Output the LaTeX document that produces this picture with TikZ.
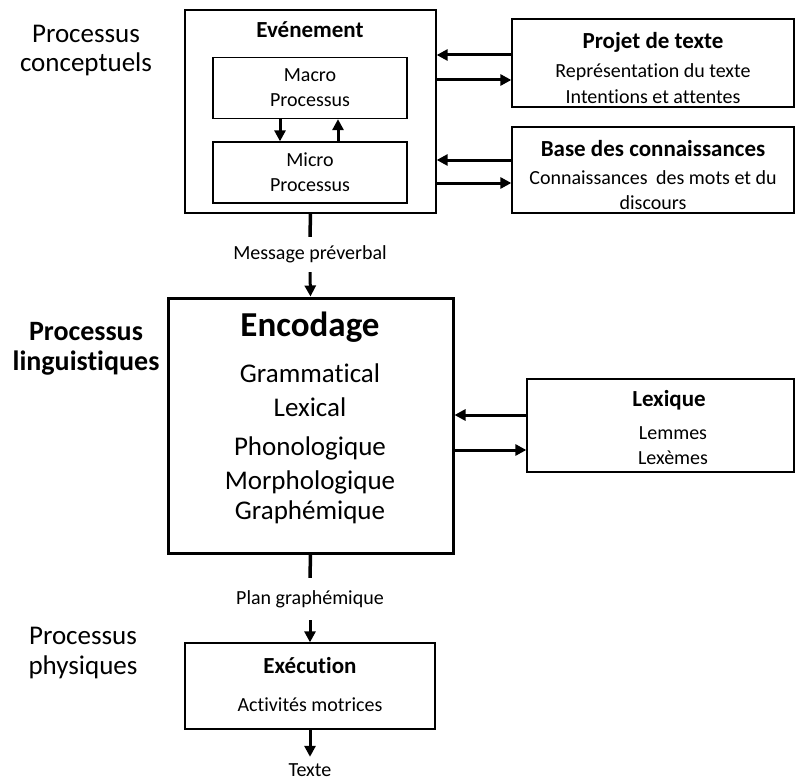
\documentclass[tikz,border=0pt]{standalone}
\usepackage{fontspec}
\setmainfont{Carlito}[Ligatures=NoCommon]
\usetikzlibrary{positioning,arrows.meta}

\begin{document}
\begin{tikzpicture}[x=1pt,y=-1pt,
	box/.style={draw,line width=1.3pt,inner sep=0pt},
	arr/.style={line width=3pt,-{Triangle[length=11pt,width=11pt]}},
	sml/.style={inner sep=0pt,align=center,font=\fontsize{20}{25}\selectfont},
	ttl/.style={inner sep=0pt,font=\fontsize{23}{28}\selectfont\bfseries},
	big/.style={inner sep=0pt,align=center,font=\fontsize{27}{29}\selectfont}]

\useasboundingbox (0,0) rectangle (795,781);

% boites du haut
\node[box,minimum width=251pt,minimum height=203pt] (evt) at (310.5,111.5) {};
\node[ttl] (evt-t) at (310,30) {Evénement};
\node[box,sml,minimum width=194pt,minimum height=61pt] (macro) at (310,88) {Macro\\Processus};
\node[box,sml,minimum width=194pt,minimum height=61pt] (micro) at (310,172.5) {Micro\\Processus};

\node[box,minimum width=282pt,minimum height=88pt] (projet) at (653,63) {};
\node[ttl] (projet-t) at (653,42) {Projet de texte};
\node[sml] (projet-1) at (653,72) {Représentation du texte};
\node[sml] (projet-2) at (653,97) {Intentions et attentes};

\node[box,minimum width=282pt,minimum height=86pt] (base) at (653,170) {};
\node[ttl] (base-t) at (653,149) {Base des connaissances};
\node[sml] (base-1) at (653,178) {Connaissances\hspace{4pt} des mots et du};
\node[sml] (base-2) at (653,203) {discours};

% encodage
\node[box,line width=3pt,minimum width=285pt,minimum height=255pt] (enc) at (310.5,425.5) {};
\node[inner sep=0pt,font=\fontsize{35}{40}\selectfont\bfseries] (enc-t) at (310,327) {Encodage};
\foreach \y/\txt in {373/Grammatical,407/Lexical,448/Phonologique,482/Morphologique,512/Graphémique}
	\node[big] (enc-\y) at (310,\y) {\txt};

\node[box,minimum width=267pt,minimum height=93pt] (lex) at (660.5,425.5) {};
\node[ttl] (lex-t) at (669,400) {Lexique};
\node[sml] (lex-1) at (673,433) {Lemmes};
\node[sml] (lex-2) at (673,458) {Lexèmes};

% execution
\node[box,minimum width=250pt,minimum height=86pt] (exe) at (310,686) {};
\node[ttl] (exe-t) at (310,666) {Exécution};
\node[sml] (exe-1) at (310,705) {Activités motrices};

% messages
\node[sml,minimum height=35pt] (msg) at (310,254.5) {Message préverbal};
\node[sml,minimum height=42pt] (plan) at (310,599) {Plan graphémique};
\node[sml,minimum height=26pt] (texte) at (310,770) {Texte};

% processus
\node[big] (pc) at (86,51) {Processus\\conceptuels};
\node[big,font=\fontsize{28}{30}\selectfont\bfseries] (pl) at (86,349) {Processus\\linguistiques};
\node[big,font=\fontsize{27}{30}\selectfont] (pp) at (83,653) {Processus\\physiques};

% fleches
\draw[arr] ([xshift=-30pt]macro.south) -- ([xshift=-30pt]micro.north);
\draw[arr] ([xshift=28pt]micro.north) -- ([xshift=28pt]macro.south);

\foreach \r/\l/\s in {projet/evt/8,base/evt/10,lex/enc/10.5}
	\draw[arr] ([yshift=\s pt]\r.west) -- ([yshift=\s pt]\r.west -| \l.east);
\foreach \r/\l/\s in {projet/evt/-17,base/evt/-13,lex/enc/-24.5}
	\draw[arr] ([yshift=\s pt]\r.west -| \l.east) -- ([yshift=\s pt]\r.west);

\draw[line width=3.5pt] (evt.south) -- (msg.north);
\draw[line width=3.5pt] (enc.south) -- (plan.north);
\foreach \x/\y in {msg/enc,plan/exe}
	\draw[arr] (\x.south) -- (\y.north);
\draw[arr] (exe.south) -- (texte.north);
\end{tikzpicture}
\end{document}
